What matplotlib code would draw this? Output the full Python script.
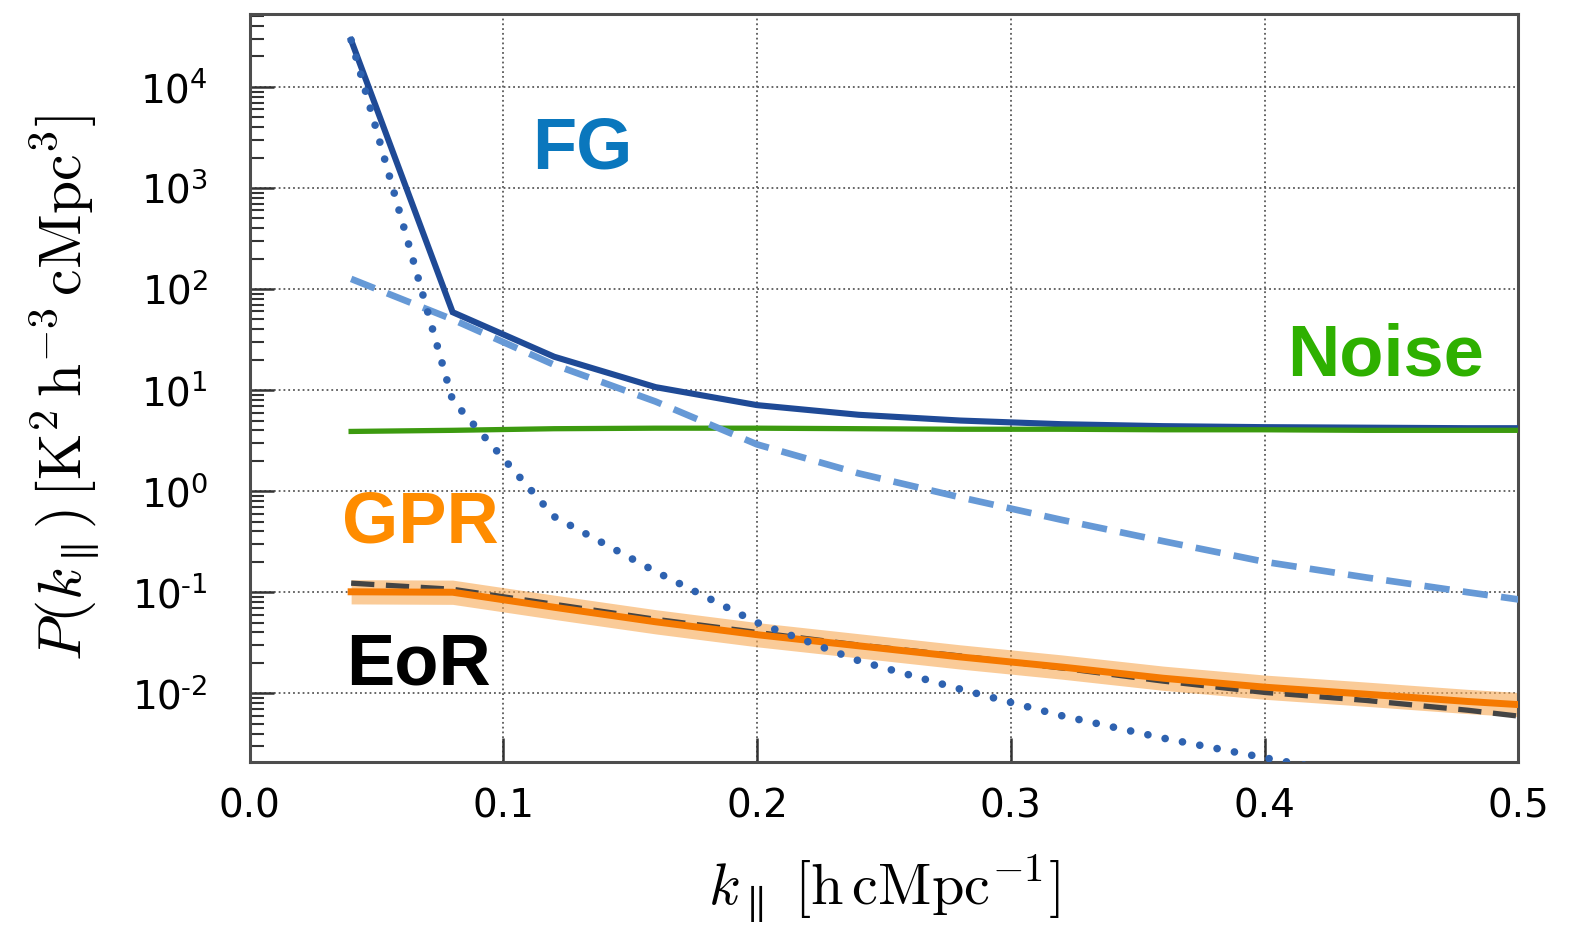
import numpy as np
import matplotlib.pyplot as plt
from matplotlib.ticker import FixedLocator, FixedFormatter, LogLocator, NullFormatter

plt.rcParams['mathtext.fontset'] = 'cm'
plt.rcParams['font.family'] = ['DejaVu Sans']

# k_parallel sample points
k = [0.04, 0.08, 0.12, 0.16, 0.20, 0.24, 0.28, 0.32, 0.36, 0.40, 0.44, 0.48, 0.52]

# foreground total (solid), foreground components (dotted / dashed)
fg_total = [2.9e4, 59.0, 21.4, 10.7, 7.1, 5.7, 5.0, 4.6, 4.4, 4.3, 4.25, 4.2, 4.2]
fg_smooth = [2.9e4, 7.9, 0.56, 0.16, 0.05, 0.021, 0.011, 6.0e-3, 3.6e-3, 2.3e-3, 1.5e-3, 1.0e-3, 7e-4]
fg_mix = [126.0, 50.0, 17.8, 7.7, 2.9, 1.5, 0.87, 0.52, 0.32, 0.20, 0.14, 0.10, 0.072]

# noise
noise = [3.9, 4.0, 4.15, 4.2, 4.2, 4.15, 4.1, 4.1, 4.05, 4.05, 4.0, 4.0, 4.0]

# recovered 21-cm signal (GPR) and input EoR
gpr = [0.101, 0.100, 0.071, 0.051, 0.038, 0.0295, 0.0229, 0.0182, 0.0141, 0.0115, 0.0098, 0.0083, 0.0072]
eor = [0.123, 0.107, 0.076, 0.054, 0.040, 0.030, 0.0234, 0.0178, 0.0132, 0.0102, 0.0085, 0.0068, 0.0052]
gpr_err = 0.12  # dex, half width of band

ytick_vals = [1e-2, 1e-1, 1e0, 1e1, 1e2, 1e3, 1e4]
ytick_labels = [r'$\mathregular{10^{\text{-}2}}$', r'$\mathregular{10^{\text{-}1}}$', r'$\mathregular{10^{0}}$',
                r'$\mathregular{10^{1}}$', r'$\mathregular{10^{2}}$', r'$\mathregular{10^{3}}$',
                r'$\mathregular{10^{4}}$']
xtick_vals = [0.0, 0.1, 0.2, 0.3, 0.4, 0.5]

fig = plt.figure(figsize=(15.85, 9.31), dpi=100)
ax = fig.add_axes([0.1575, 0.1815, 0.8005, 0.8033])

k = np.array(k)
gpr = np.array(gpr)

ax.plot(k, fg_total, color='#1f4a96', lw=4.4, solid_joinstyle='miter', zorder=3)
ax.plot(k, noise, color='#3c9a0f', lw=3.8, zorder=3)
ax.plot(k, fg_mix, color='#6699d6', lw=4.8, ls=(0, (3.8, 2.0)), zorder=3)
ax.fill_between(k, gpr * 10 ** -gpr_err, gpr * 10 ** gpr_err, color='#f8a953', alpha=0.6, lw=0, zorder=2)
ax.plot(k, eor, color='#444444', lw=3.8, ls=(0, (4.4, 2.2)), zorder=2.5)
ax.plot(k, gpr, color='#f57900', lw=5.0, zorder=2.6)
ax.plot(k, fg_smooth, color='#2e62b0', lw=5.5, ls=(0, (0.01, 2.3)), dash_capstyle='round', zorder=4)

ax.set_yscale('log')
ax.set_xlim(0, 0.5)
ax.set_ylim(10 ** -2.68, 10 ** 4.72)

ax.yaxis.set_major_locator(FixedLocator(ytick_vals))
ax.yaxis.set_major_formatter(FixedFormatter(ytick_labels))
ax.yaxis.set_minor_locator(LogLocator(base=10, subs=np.arange(2, 10), numticks=20))
ax.yaxis.set_minor_formatter(NullFormatter())
ax.set_xticks(xtick_vals)
ax.set_xticklabels(['0.0', '0.1', '0.2', '0.3', '0.4', '0.5'])

ax.tick_params(axis='both', which='major', direction='in', length=17, width=1.8,
               labelsize=28, pad=18, color='0.2', top=False, right=False)
ax.tick_params(axis='y', which='major', pad=30)
ax.tick_params(axis='y', which='minor', direction='in', length=10, width=1.5, color='0.2', right=False)
ax.tick_params(axis='x', which='minor', bottom=False, top=False)

ax.grid(True, which='major', ls=':', color='0.35', lw=1.3)
for sp in ax.spines.values():
    sp.set_color('0.3')
    sp.set_linewidth(2.2)

ax.set_xlabel(r'$k_{\parallel}\ [\mathrm{h\,cMpc^{-1}}]$', fontsize=42, labelpad=20)
ax.set_ylabel(r'$P(k_{\parallel})\,[\mathrm{K^2\,h^{-3}\,cMpc^3}]$', fontsize=43, labelpad=22)

bold = dict(fontsize=52, fontweight='bold', family=['Liberation Sans', 'DejaVu Sans'], ha='center', va='baseline')
ax.text(0.131, 10 ** 3.19, 'FG', color='#0a77bd', **bold)
ax.text(0.4475, 10 ** 1.14, 'Noise', color='#2eb000', **bold)
ax.text(0.0673, 10 ** -0.51, 'GPR', color='#ff8c00', **bold)
ax.text(0.0665, 10 ** -1.91, 'EoR', color='black', **bold)

fig.savefig('out.png', dpi=100)
